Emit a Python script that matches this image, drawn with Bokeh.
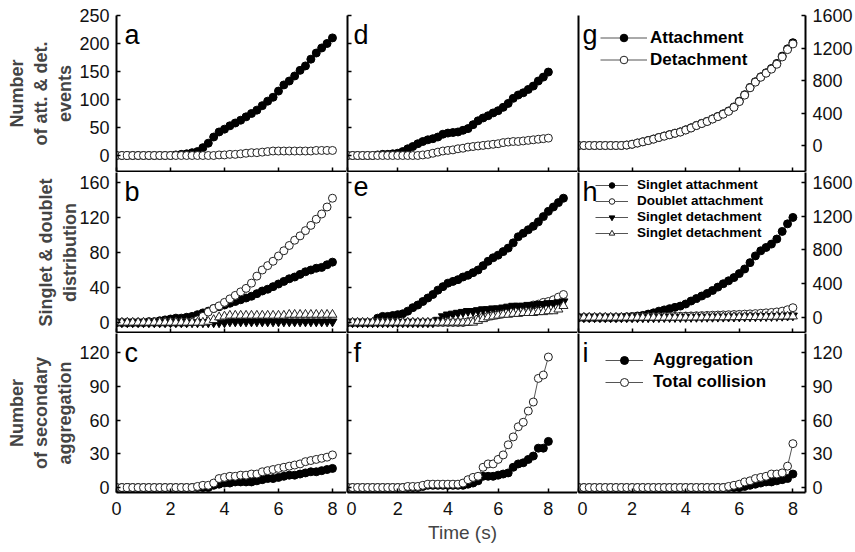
from bokeh.plotting import figure
from bokeh.layouts import column, row
from bokeh.models import Range1d, LinearAxis, FixedTicker, Label, Legend, LegendItem
from bokeh.embed import file_html
from bokeh.resources import INLINE

FONT = "Liberation Sans"

# ---------------- data ----------------
TIME = [0.0, 0.2, 0.4, 0.6, 0.8, 1.0, 1.2, 1.4, 1.6, 1.8, 2.0, 2.2, 2.4, 2.6, 2.8,
        3.0, 3.2, 3.4, 3.6, 3.8, 4.0, 4.2, 4.4, 4.6, 4.8, 5.0, 5.2, 5.4, 5.6, 5.8,
        6.0, 6.2, 6.4, 6.6, 6.8, 7.0, 7.2, 7.4, 7.6, 7.8, 8.0]
TIME_E = TIME + [8.2, 8.4, 8.6]

X_TICKS = [0, 2, 4, 6, 8]
TICKS_ROW1 = [0, 50, 100, 150, 200, 250]
TICKS_ROW2 = [0, 40, 80, 120, 160]
TICKS_ROW3 = [0, 30, 60, 90, 120]
TICKS_RIGHT_BIG = [0, 400, 800, 1200, 1600]

# panel a
A_ATT = [0] * 11 + [1, 2, 3, 5, 7, 14, 22, 33, 42, 47, 53, 58, 63, 69, 75, 81, 89, 97,
                    104, 115, 126, 133, 142, 152, 160, 172, 183, 192, 200, 210]
A_DET = [0] * 19 + [1, 1, 2, 2, 3, 4, 5, 5, 6, 7, 8, 8, 8, 8, 8, 8, 8, 8, 9, 9, 9, 9]
# panel d
D_ATT = [0] * 6 + [1, 2, 2, 3, 4, 7, 12, 16, 21, 25, 28, 30, 33, 38, 40, 41, 42, 45, 48,
                   55, 62, 67, 71, 76, 80, 86, 93, 102, 108, 112, 118, 124, 133, 140, 149]
D_DET = [0] * 15 + [1, 2, 4, 6, 8, 9, 10, 12, 13, 15, 16, 17, 18, 19, 20, 21, 23, 24,
                    25, 25, 26, 27, 28, 29, 30, 31]
# panel g
G_ATT = [0] * 9 + [6, 16, 31, 46, 62, 80, 100, 117, 134, 152, 168, 193, 218, 248, 273,
                   298, 328, 358, 390, 425, 475, 545, 625, 715, 785, 845, 895, 948,
                   1010, 1100, 1190, 1265]
G_DET = [0] * 9 + [5, 15, 30, 45, 60, 78, 98, 115, 132, 150, 165, 190, 215, 245, 270,
                   295, 325, 355, 385, 420, 470, 540, 620, 710, 780, 840, 890, 940,
                   1000, 1090, 1180, 1250]
# panel b
B_SA = [0] * 6 + [1, 1, 2, 3, 4, 5, 5, 6, 7, 9, 11, 13, 16, 18, 20, 22, 24, 26, 28, 30,
                  33, 36, 38, 41, 44, 47, 50, 52, 55, 58, 60, 62, 63, 66, 69]
B_DA = [0] * 14 + [1, 3, 7, 12, 16, 19, 23, 27, 31, 35, 39, 45, 53, 60, 65, 70, 76, 82,
                   88, 94, 99, 105, 111, 118, 124, 132, 142]
B_SD = [0] * 21 + [1] * 20
B_SD2 = [0] * 17 + [1, 3, 6, 7, 8, 8, 8, 8, 8, 8, 8, 8, 8, 8, 8, 9, 9, 9, 9, 9, 9, 9, 9, 9]
# panel e
E_SA = [0] * 6 + [5, 7, 7, 8, 9, 10, 13, 17, 20, 24, 28, 32, 37, 41, 45, 47, 49, 52, 54,
                  57, 60, 65, 70, 74, 77, 81, 85, 91, 98, 102, 106, 110, 115, 121, 127,
                  132, 137, 142]
E_DA = [0] * 24 + [1, 2, 4, 6, 7, 8, 9, 10, 12, 13, 14, 16, 18, 20, 21, 23, 24, 26, 29, 32]
E_SD = [0] * 18 + [3, 7, 9, 10, 11, 12, 13, 13, 14, 15, 15, 16, 16, 17, 18, 19, 19, 19,
                   20, 20, 21, 21, 22, 22, 23, 24]
E_SD2 = [0] * 26 + [2, 4, 6, 7, 8, 9, 9, 10, 10, 11, 11, 11, 12, 12, 13, 13, 15, 19]
# panel h
H_SA = [0] * 8 + [3, 8, 12, 18, 25, 40, 55, 75, 90, 105, 120, 135, 160, 195, 225, 255,
                  285, 320, 360, 400, 435, 473, 520, 575, 650, 730, 790, 830, 870, 930,
                  1020, 1110, 1186]
H_DA = [0] * 11 + [2, 4, 6, 8, 10, 12, 13, 14, 15, 17, 19, 21, 23, 25, 27, 29, 31, 33,
                   35, 37, 40, 43, 46, 50, 55, 60, 66, 75, 92, 116]
H_SD = [0] * 15 + [1, 2, 2, 3, 3, 4, 4, 5, 5, 6, 6, 7, 7, 8, 8, 9, 10, 11, 12, 13, 14,
                   15, 16, 18, 20, 22]
H_SD2 = [0] * 20 + [1, 1, 2, 2, 3, 3, 4, 4, 5, 5, 6, 6, 7, 7, 8, 9, 10, 11, 12, 13, 14]
# panel c
C_AGG = [0] * 18 + [2, 3, 4, 4, 5, 5, 5, 5, 6, 7, 8, 8, 9, 10, 11, 11, 12, 13, 14, 14,
                    15, 16, 17]
C_TOT = [0] * 15 + [1, 2, 2, 4, 8, 9, 10, 10, 11, 11, 12, 12, 14, 15, 16, 17, 18, 19,
                    20, 21, 23, 24, 25, 26, 27, 29]
# panel f
F_AGG = [0] * 15 + [1, 2, 2, 2, 2, 2, 2, 2, 2, 3, 4, 6, 10, 10, 10, 11, 12, 13, 18, 21,
                    22, 25, 28, 35, 35, 41]
F_TOT = [0] * 12 + [1, 1, 1, 2, 3, 3, 3, 3, 3, 3, 3, 4, 7, 9, 10, 18, 21, 21, 25, 29,
                    38, 45, 54, 58, 68, 76, 97, 100, 116]
# panel i
I_AGG = [0] * 31 + [1, 2, 3, 4, 5, 5, 6, 7, 8, 12]
I_TOT = [0] * 28 + [1, 2, 3, 5, 6, 8, 9, 10, 12, 12, 13, 19, 39]

# ---------------- layout geometry ----------------
COL_W = [(116, 230, 0), (1, 230, 0), (1, 227, 50)]   # left border, frame, right border
ROW_H = [(15, 156, 1), (0, 160, 1), (0, 159, 60)]    # top border, frame, bottom border
X_END = [8.52, 9.16, 8.47]
LETTER_DX = [8, 6, 4]

LINE_COLOR = "#555555"


def style_axis(ax, show_labels, ticks, ticks_in=4):
    ax.axis_line_color = "black"
    ax.axis_line_width = 2
    ax.major_label_text_font = FONT
    ax.major_label_text_color = "#111111"
    ax.major_label_text_font_size = "18px"
    if show_labels:
        ax.ticker = FixedTicker(ticks=ticks)
        ax.major_tick_in = ticks_in
        ax.major_tick_out = 0
        ax.major_tick_line_width = 1.5
        ax.major_tick_line_color = "black"
        ax.minor_tick_line_color = None
    else:
        # tick marks only, no labels
        ax.ticker = FixedTicker(ticks=[], minor_ticks=ticks if ticks_in else [])
        ax.major_tick_line_color = None
        ax.minor_tick_in = ticks_in
        ax.minor_tick_out = 0
        ax.minor_tick_line_width = 1.5
        ax.minor_tick_line_color = "black"
        ax.major_label_standoff = 0


def make_panel(ci, ri, y_range, y_ticks, letter, right_ticks=None):
    bl, fw, br = COL_W[ci]
    bt, fh, bb = ROW_H[ri]
    p = figure(width=bl + fw + br, height=bt + fh + bb,
               x_range=Range1d(0, X_END[ci]), y_range=Range1d(*y_range),
               output_backend="svg", toolbar_location=None, tools="")
    p.min_border = 0
    p.min_border_left = bl
    p.min_border_right = br
    p.min_border_top = bt
    p.min_border_bottom = bb
    p.outline_line_color = None
    p.grid.visible = False
    p.background_fill_color = "white"
    p.border_fill_color = "white"

    xa = p.xaxis[0]
    style_axis(xa, ri == 2, X_TICKS)
    if ri == 2:
        xa.major_label_standoff = 9

    ya = p.yaxis[0]
    style_axis(ya, ci == 0, y_ticks, ticks_in=0 if ci == 2 else 4)
    if ci == 0:
        ya.major_label_standoff = 7

    if right_ticks is not None:
        ra = LinearAxis()
        style_axis(ra, True, right_ticks)
        ra.major_label_standoff = 7
        p.add_layout(ra, "right")

    p.add_layout(Label(x=LETTER_DX[ci], y=fh - 4, x_units="screen", y_units="screen",
                       text=letter, text_font=FONT, text_font_size="27px",
                       text_baseline="top", text_color="black"))
    return p


def series(p, t, y, kind):
    ln = p.line(t, y, line_color=LINE_COLOR, line_width=1)
    if kind == "fc":
        sc = p.scatter(t, y, marker="circle", size=8, fill_color="black", line_color="black")
    elif kind == "oc":
        sc = p.scatter(t, y, marker="circle", size=8, fill_color="white", line_color="#222222",
                       line_width=1)
    elif kind == "ft":
        sc = p.scatter(t, y, marker="inverted_triangle", size=9, fill_color="black",
                       line_color="black")
    else:
        sc = p.scatter(t, y, marker="triangle", size=9, fill_color="white", line_color="#222222",
                       line_width=1)
    return [ln, sc]


def add_legend(p, items, x, y, font_size, label_h, spacing, glyph_w, standoff):
    leg = Legend(items=[LegendItem(label=lab, renderers=r) for lab, r in items],
                 location=(x, y), orientation="vertical", padding=0, margin=0,
                 spacing=spacing, glyph_width=glyph_w, glyph_height=label_h,
                 label_height=label_h, label_standoff=standoff,
                 label_text_font=FONT, label_text_font_style="bold",
                 label_text_font_size=font_size, label_text_color="black",
                 background_fill_alpha=0, border_line_alpha=0)
    p.add_layout(leg)


R1 = (-28.6, 250)
R1G = (-320, 1600)
R2 = (-11.4, 171.4)
R2H = (-177.8, 1718.5)
R3 = (-4.4, 136.9)

# row 1
pa = make_panel(0, 0, R1, TICKS_ROW1, "a")
series(pa, TIME, A_ATT, "fc")
series(pa, TIME, A_DET, "oc")
pa.yaxis[0].axis_label = "Number\nof att. & det.\nevents"

pd_ = make_panel(1, 0, R1, TICKS_ROW1, "d")
series(pd_, TIME, D_ATT, "fc")
series(pd_, TIME, D_DET, "oc")

pg = make_panel(2, 0, R1G, TICKS_ROW1, "g", right_ticks=TICKS_RIGHT_BIG)
g1 = series(pg, TIME, G_ATT, "fc")
g2 = series(pg, TIME, G_DET, "oc")
add_legend(pg, [("Attachment", g1), ("Detachment", g2)], 22, 101.5, "17px", 19, 2, 47, 3)

# row 2
pb = make_panel(0, 1, R2, TICKS_ROW2, "b")
series(pb, TIME, B_SA, "fc")
series(pb, TIME, B_DA, "oc")
series(pb, TIME, B_SD, "ft")
series(pb, TIME, B_SD2, "ot")
pb.yaxis[0].axis_label = "Singlet & doublet\ndistribution"

pe = make_panel(1, 1, R2, TICKS_ROW2, "e")
series(pe, TIME_E, E_SA, "fc")
series(pe, TIME_E, E_DA, "oc")
series(pe, TIME_E, E_SD, "ft")
series(pe, TIME_E, E_SD2, "ot")

ph = make_panel(2, 1, R2H, TICKS_ROW2, "h", right_ticks=TICKS_RIGHT_BIG)
h1 = series(ph, TIME, H_SA, "fc")
h2 = series(ph, TIME, H_DA, "oc")
h3 = series(ph, TIME, H_SD, "ft")
h4 = series(ph, TIME, H_SD2, "ot")
add_legend(ph, [("Singlet attachment", h1), ("Doublet attachment", h2),
                ("Singlet detachment", h3), ("Singlet detachment", h4)],
           17, 92, "13.5px", 14, 1, 33, 9)

# row 3
pc = make_panel(0, 2, R3, TICKS_ROW3, "c")
series(pc, TIME, C_AGG, "fc")
series(pc, TIME, C_TOT, "oc")
pc.yaxis[0].axis_label = "Number\nof secondary\naggregation"

pf = make_panel(1, 2, R3, TICKS_ROW3, "f")
series(pf, TIME, F_AGG, "fc")
series(pf, TIME, F_TOT, "oc")
pf.xaxis[0].axis_label = "Time (s)"
pf.xaxis[0].axis_label_text_font = FONT
pf.xaxis[0].axis_label_text_font_size = "19px"
pf.xaxis[0].axis_label_text_font_style = "normal"
pf.xaxis[0].axis_label_standoff = 4

pi = make_panel(2, 2, R3, TICKS_ROW3, "i", right_ticks=TICKS_ROW3)
i1 = series(pi, TIME, I_AGG, "fc")
i2 = series(pi, TIME, I_TOT, "oc")
add_legend(pi, [("Aggregation", i1), ("Total collision", i2)], 27, 100, "17px", 20, 2, 38, 10)

for pp, so in ((pa, 1), (pb, -4), (pc, 1)):
    ax = pp.yaxis[0]
    ax.axis_label_text_font = FONT
    ax.axis_label_text_font_size = "18px"
    ax.axis_label_text_font_style = "bold"
    ax.axis_label_standoff = so

layout = column(row(pa, pd_, pg), row(pb, pe, ph), row(pc, pf, pi))

open("out.html", "w").write(file_html(layout, INLINE))
